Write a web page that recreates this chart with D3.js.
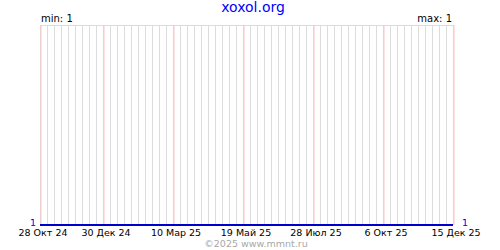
<!DOCTYPE html>
<html>
<head>
<meta charset="utf-8">
<script src="https://cdn.jsdelivr.net/npm/d3@7"></script>
<style>
  body { margin: 0; background: #fff; }
  svg { display: block; font-family: "DejaVu Sans", Verdana, sans-serif; }
</style>
</head>
<body>
<div id="chart"></div>
<script>
const title = "xoxol.org";
const credit = "\u00a92025 www.mmnt.ru";
const tickDates = ["2024-10-28", "2024-12-30", "2025-03-10", "2025-05-19", "2025-07-28", "2025-10-06", "2025-12-15"];
const tickLabels = ["28 Окт 24", "30 Дек 24", "10 Мар 25", "19 Май 25", "28 Июл 25", "6 Окт 25", "15 Дек 25"];
const seriesDates = ["2024-10-28", "2025-12-15"];
const seriesValues = [1, 1];
const minValue = 1, maxValue = 1;

const parse = d3.utcParse("%Y-%m-%d");
const ticks = tickDates.map(parse);
const width = 500, height = 250;
const margin = { top: 25, right: 47, bottom: 25, left: 40 };

const svg = d3.select("#chart").append("svg").attr("width", width).attr("height", height);

// ---------- scales ----------
const x = d3.scaleUtc().domain([ticks[0], ticks[ticks.length - 1]]).range([margin.left, width - margin.right]);
const y = d3.scaleLinear().domain([minValue, maxValue + 1]).range([height - margin.bottom, margin.top]);

// weekly grid
const weeks = d3.utcMonday.range(ticks[0], d3.utcDay.offset(ticks[ticks.length - 1], 1));
svg.append("g").selectAll("line").data(weeks).enter().append("line")
  .attr("x1", d => Math.round(x(d)) + 0.5).attr("x2", d => Math.round(x(d)) + 0.5)
  .attr("y1", margin.top).attr("y2", height - margin.bottom)
  .attr("stroke", "#dcdcdc").attr("stroke-width", 1);

// top border
svg.append("line")
  .attr("x1", margin.left).attr("x2", width - margin.right + 1)
  .attr("y1", margin.top + 0.5).attr("y2", margin.top + 0.5)
  .attr("stroke", "#dcdcdc");

// ---------- x axis ----------
const xAxis = d3.axisBottom(x).tickValues(ticks).tickFormat((d, i) => tickLabels[i])
  .tickSize(-(height - margin.top - margin.bottom)).tickPadding(4);
const gx = svg.append("g").attr("transform", `translate(0.5,${height - margin.bottom})`).call(xAxis);
gx.select(".domain").remove();
gx.selectAll(".tick line").attr("stroke", "#ffc4c4").attr("transform", d => `translate(${Math.round(x(d)) - x(d)},0)`);
gx.selectAll(".tick text").attr("fill", "#000").attr("font-size", 9.5)
  .attr("font-family", "DejaVu Sans, Verdana, sans-serif").attr("x", 2).attr("dy", "0.75em");

// ---------- series ----------
const series = seriesDates.map((d, i) => ({ date: parse(d), value: seriesValues[i] }));
const line = d3.line().x(d => x(d.date)).y(d => y(d.value));
svg.append("path").datum(series).attr("fill", "none").attr("stroke", "#0000cc").attr("stroke-width", 2)
  .attr("d", line);

// value labels at ends
svg.append("text").attr("x", margin.left - 4).attr("y", y(minValue) + 1)
  .attr("text-anchor", "end").attr("fill", "#0000ff").attr("font-size", 9.5).text(seriesValues[0]);
svg.append("text").attr("x", width - margin.right + 9).attr("y", y(maxValue) + 1)
  .attr("text-anchor", "start").attr("fill", "#0000ff").attr("font-size", 9.5).text(seriesValues[seriesValues.length - 1]);

// ---------- texts ----------
svg.append("text").attr("x", 253).attr("y", 12).attr("text-anchor", "middle")
  .attr("fill", "#0000ff").attr("font-size", 14).text(title);
svg.append("text").attr("x", margin.left + 1).attr("y", 22)
  .attr("fill", "#000").attr("font-size", 10).text(`min: ${minValue}`);
svg.append("text").attr("x", width - margin.right - 1).attr("y", 22).attr("text-anchor", "end")
  .attr("fill", "#000").attr("font-size", 10).text(`max: ${maxValue}`);
svg.append("text").attr("x", 256).attr("y", 247).attr("text-anchor", "middle")
  .attr("fill", "#a8a8a8").attr("font-size", 9.5).text(credit);
</script>
</body>
</html>
